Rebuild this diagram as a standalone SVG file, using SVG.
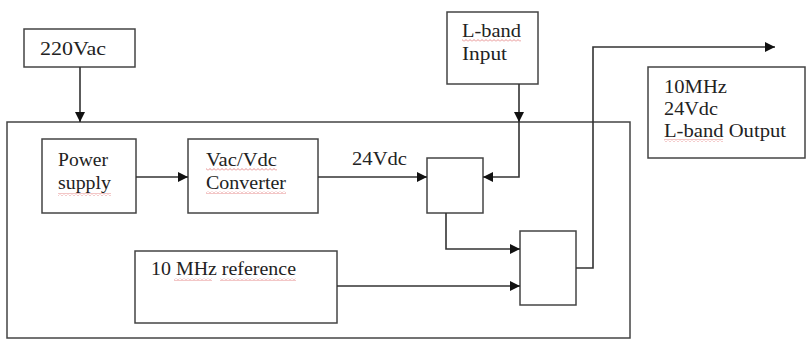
<svg xmlns="http://www.w3.org/2000/svg" width="807" height="340" viewBox="0 0 807 340">
<style>
.box{fill:#fff;stroke:#444;stroke-width:1.5}
.frame{fill:none;stroke:#444;stroke-width:1.5}
.lbl{font-family:"Liberation Serif","Times New Roman",serif;font-size:18px;fill:#222}
.con{fill:none;stroke:#333;stroke-width:1.6}
.sq{fill:url(#squig)}
</style>
<defs>
<marker id="ah" viewBox="0 0 10 10" refX="10" refY="5" markerWidth="10" markerHeight="10" markerUnits="userSpaceOnUse" orient="auto">
<path d="M0,0 L10,5 L0,10 Z" fill="#111"/>
</marker>
<pattern id="squig" width="4" height="3" patternUnits="userSpaceOnUse">
<path d="M0,2.5 L2,0.5 L4,2.5" fill="none" stroke="#e07070" stroke-width="0.8"/>
</pattern>
</defs>
<rect width="807" height="340" fill="#fff"/>

<g id="outer"><rect class="frame" x="7" y="122" width="623" height="216"/></g>

<g id="n220"><rect class="box" x="24" y="29" width="111" height="38"/>
<text class="lbl" x="40" y="55" textLength="66" lengthAdjust="spacingAndGlyphs">220Vac</text></g>

<g id="power"><rect class="box" x="42" y="139" width="94" height="74"/>
<text class="lbl" x="58" y="166" textLength="50" lengthAdjust="spacingAndGlyphs">Power</text>
<text class="lbl" x="58" y="189" textLength="53" lengthAdjust="spacingAndGlyphs">supply</text>
<rect class="sq" x="58" y="193" width="53" height="3"/></g>

<g id="conv"><rect class="box" x="188" y="139" width="130" height="74"/>
<text class="lbl" x="206" y="166" textLength="71" lengthAdjust="spacingAndGlyphs">Vac/Vdc</text>
<text class="lbl" x="206" y="189" textLength="80" lengthAdjust="spacingAndGlyphs">Converter</text>
<rect class="sq" x="206" y="168" width="71" height="3"/>
<rect class="sq" x="206" y="191" width="80" height="3"/></g>

<g id="lbin"><rect class="box" x="447" y="12" width="91" height="72"/>
<text class="lbl" x="462" y="37" textLength="59" lengthAdjust="spacingAndGlyphs">L-band</text>
<text class="lbl" x="462" y="60" textLength="45" lengthAdjust="spacingAndGlyphs">Input</text>
<rect class="sq" x="462" y="39" width="59" height="3"/></g>

<g id="blk1"><rect class="box" x="427" y="158" width="56" height="55"/></g>
<g id="blk2"><rect class="box" x="520" y="231" width="56" height="74"/></g>

<g id="ref"><rect class="box" x="135" y="251" width="202" height="72"/>
<text class="lbl" x="151" y="275" textLength="145" lengthAdjust="spacingAndGlyphs">10 MHz reference</text>
<rect class="sq" x="174" y="278" width="38" height="3"/>
<rect class="sq" x="220" y="278" width="76" height="3"/></g>

<g id="out"><rect class="box" x="648" y="67" width="157" height="91"/>
<text class="lbl" x="664" y="93" textLength="63" lengthAdjust="spacingAndGlyphs">10MHz</text>
<text class="lbl" x="664" y="115" textLength="54" lengthAdjust="spacingAndGlyphs">24Vdc</text>
<text class="lbl" x="664" y="137" textLength="122" lengthAdjust="spacingAndGlyphs">L-band Output</text>
<rect class="sq" x="664" y="139" width="59" height="3"/></g>

<g id="connectors">
<path class="con" d="M80,67 V122" marker-end="url(#ah)"/>
<path class="con" d="M136,177 H188" marker-end="url(#ah)"/>
<path class="con" d="M318,177 H427" marker-end="url(#ah)"/>
<text class="lbl" x="352" y="165" textLength="55" lengthAdjust="spacingAndGlyphs">24Vdc</text>
<path class="con" d="M519,84 V122" marker-end="url(#ah)"/>
<path class="con" d="M519,122 V177 H483" marker-end="url(#ah)"/>
<path class="con" d="M446,213 V249 H520" marker-end="url(#ah)"/>
<path class="con" d="M337,286 H520" marker-end="url(#ah)"/>
<path class="con" d="M576,268 H593 V47 H775" marker-end="url(#ah)"/>
</g>
</svg>
